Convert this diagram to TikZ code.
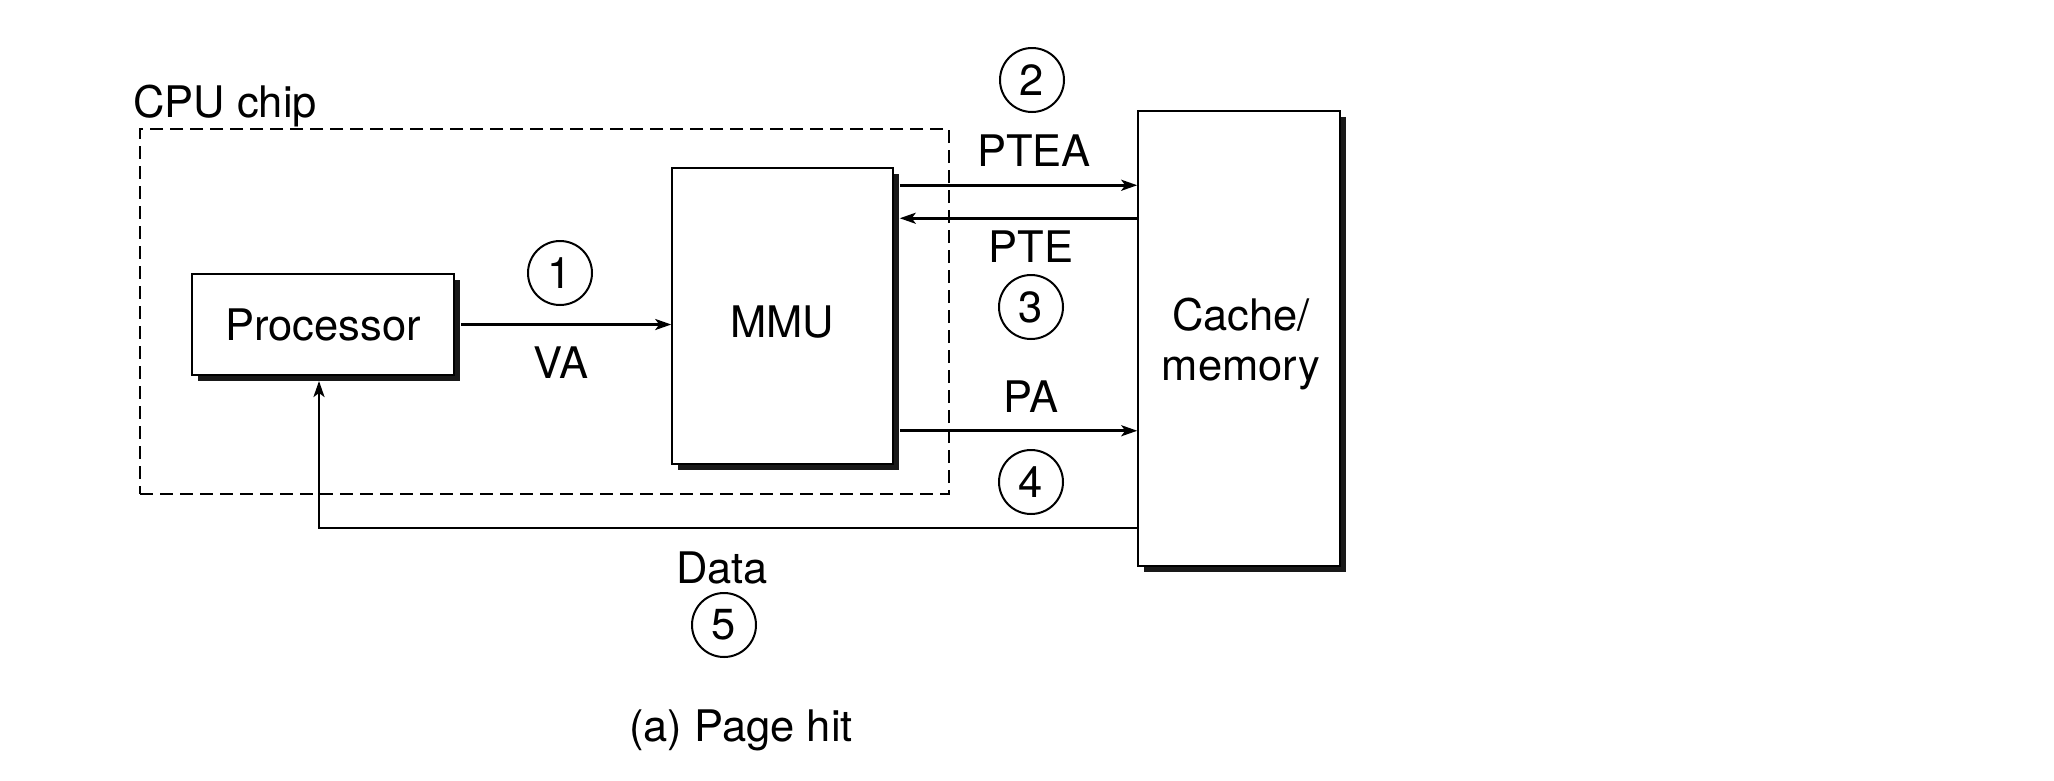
\documentclass[tikz,border=0pt]{standalone}
\usepackage{fontspec}
\setmainfont{TeX Gyre Heros}
\usetikzlibrary{arrows.meta,shadows,calc}
\begin{document}
\begin{tikzpicture}[x=1pt,y=-1pt,
  every node/.style={font=\fontsize{43.5}{50}\selectfont, inner sep=0pt},
  blk/.style={draw=black, line width=1.5pt, fill=white,
    drop shadow={shadow xshift=6pt, shadow yshift=-6pt, fill=black!90, opacity=1}},
  arr/.style={line width=2.6pt, -{Stealth[length=16pt,width=11pt,inset=4pt]}},
  num/.style={circle, draw=black, line width=2pt, minimum size=64pt, inner sep=0pt},
  lbl/.style={anchor=base},
  chip/.style={draw=black, line width=2.6pt, dash pattern=on 13pt off 7pt}
]
\useasboundingbox (0,0) rectangle (2054,780);

% CPU chip region
\node[chip, minimum width=809pt, minimum height=365pt] (cpu) at (544.5,311.5) {};
\node[anchor=base west] (cpulbl) at (133,117) {CPU chip};

% blocks
\node[blk, minimum width=262pt, minimum height=101pt] (proc) at (323,324.5) {Processor};
\node[blk, minimum width=221pt, minimum height=296pt] (mmu) at (782.5,316) {};
\node[lbl] (mmulbl) at (782,337) {MMU};
\node[blk, minimum width=202pt, minimum height=455pt] (cache) at (1239,338.5) {};
\node[lbl, align=center] (cachelbl) at (1241,380) {Cache/\\memory};

% connectors
\draw[arr] ($(proc.east)+(6,0)$) -- (proc.east -| mmu.west);

\coordinate (ptea) at ($(mmu.north east)+(6,18)$);
\draw[arr] (ptea) -- (ptea -| cache.west);
\coordinate (pte) at ($(mmu.north east)+(6,51)$);
\draw[arr] (pte -| cache.west) -- (pte);
\coordinate (pa) at ($(mmu.south east)+(6,-34)$);
\draw[arr] (pa) -- (pa -| cache.west);

\coordinate (dcorner) at (319,528);
\coordinate (dtip) at (319,381);
\draw[arr] (dcorner -| cache.west) -- (dcorner) -- (dtip);

% labels
\node[lbl] (va) at (561,378) {VA};
\node[lbl] (ptealbl) at (1034,166) {PTEA};
\node[lbl] (ptelbl) at (1031,262) {PTE};
\node[lbl] (palbl) at (1031,412) {PA};
\node[lbl] (datalbl) at (722,583) {Data};

% step numbers
\node[num] (n1) at (560,273) {1};
\node[num] (n2) at (1032,80) {2};
\node[num] (n3) at (1031,307) {3};
\node[num] (n4) at (1031,482) {4};
\node[num] (n5) at (724,625) {5};

% caption
\node[lbl] (caption) at (741,741) {(a) Page hit};
\end{tikzpicture}
\end{document}
